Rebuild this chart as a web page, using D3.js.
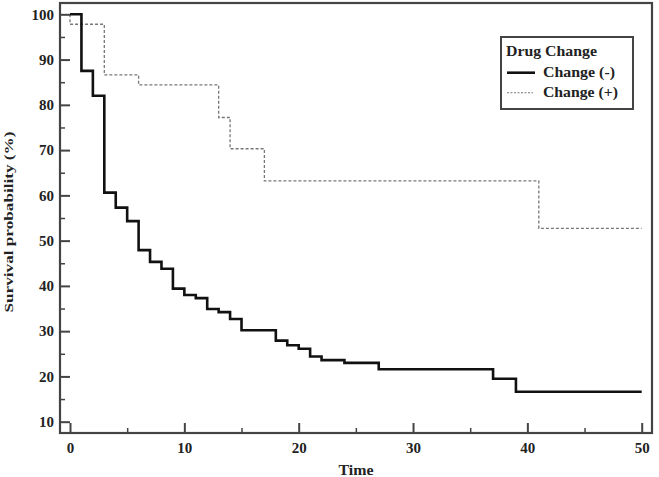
<!DOCTYPE html>
<html>
<head>
<meta charset="utf-8">
<script src="https://cdn.jsdelivr.net/npm/d3@7"></script>
<style>
  html, body { margin: 0; padding: 0; background: #fff; }
  svg { display: block; }
  text { font-family: "Liberation Serif", "Times New Roman", serif; font-weight: bold; fill: #222; }
</style>
</head>
<body>
<svg id="chart" width="659" height="477"></svg>
<script>
// ---- Data ----
const timesNeg = [0, 1, 2, 3, 4, 5, 6, 7, 8, 9, 10, 11, 12, 13, 14, 15, 18, 19, 20, 21, 22, 24, 27, 37, 39, 50];
const survNeg  = [100, 87.5, 82, 60.6, 57.3, 54.3, 47.9, 45.3, 43.8, 39.4, 38.0, 37.3, 34.9, 34.2, 32.7, 30.2, 27.9, 26.9, 26.1, 24.4, 23.6, 23.0, 21.6, 19.5, 16.6, 16.6];
const timesPos = [0, 0, 3, 6, 13, 14, 17, 41, 50];
const survPos  = [100, 97.8, 86.6, 84.4, 77.2, 70.3, 63.2, 52.7, 52.7];
const xTicks = [0, 10, 20, 30, 40, 50];
const xMinorTicks = [5, 15, 25, 35, 45];
const yTicks = [10, 20, 30, 40, 50, 60, 70, 80, 90, 100];
const yMinorTicks = [15, 25, 35, 45, 55, 65, 75, 85, 95];
const seriesNames = ["Change (-)", "Change (+)"];
const legendTitle = "Drug Change";
const xTitle = "Time";
const yTitle = "Survival probability (%)";

// ---- Layout ----
const svg = d3.select("#chart");
const L = 60, R = 652, T = 3, B = 433;
const x = d3.scaleLinear().domain([-0.875, 50.9]).range([L, R]);
const y = d3.scaleLinear().domain([7.5, 102.5]).range([B, T]);
const axisColor = "#444";

// curves
const line = d3.line().x(d => x(d[0])).y(d => y(d[1])).curve(d3.curveStepAfter);
svg.append("path")
  .datum(timesPos.map((t, i) => [t, survPos[i]]))
  .attr("d", line).attr("fill", "none")
  .attr("stroke", "#777").attr("stroke-width", 1.3).attr("stroke-dasharray", "3,2");
svg.append("path")
  .datum(timesNeg.map((t, i) => [t, survNeg[i]]))
  .attr("d", line).attr("fill", "none")
  .attr("stroke", "#111").attr("stroke-width", 2.6);

// axes (ticks inward)
const xAxis = d3.axisBottom(x).tickValues(xTicks).tickSize(-10).tickPadding(20);
const gx = svg.append("g").attr("transform", `translate(0,${B})`).call(xAxis);
gx.select(".domain").remove();
gx.selectAll(".tick line").attr("stroke", axisColor).attr("stroke-width", 2);
gx.selectAll(".tick text").attr("font-size", 15).attr("font-family", "Liberation Serif").attr("font-weight", "bold").attr("fill", "#222").attr("dy", 0).attr("y", 20);
const gxm = svg.append("g").attr("transform", `translate(0,${B})`)
  .call(d3.axisBottom(x).tickValues(xMinorTicks).tickSize(-5).tickFormat(""));
gxm.select(".domain").remove();
gxm.selectAll(".tick line").attr("stroke", axisColor).attr("stroke-width", 1.5);

const yAxis = d3.axisLeft(y).tickValues(yTicks).tickSize(-10).tickPadding(6);
const gy = svg.append("g").attr("transform", `translate(${L},0)`).call(yAxis);
gy.select(".domain").remove();
gy.selectAll(".tick line").attr("stroke", axisColor).attr("stroke-width", 2);
gy.selectAll(".tick text").attr("font-size", 15).attr("font-family", "Liberation Serif").attr("font-weight", "bold").attr("fill", "#222").attr("x", -6);
const gym = svg.append("g").attr("transform", `translate(${L},0)`)
  .call(d3.axisLeft(y).tickValues(yMinorTicks).tickSize(-5).tickFormat(""));
gym.select(".domain").remove();
gym.selectAll(".tick line").attr("stroke", axisColor).attr("stroke-width", 1.5);

// frame
svg.append("rect").attr("x", L).attr("y", T).attr("width", R - L).attr("height", B - T)
  .attr("fill", "none").attr("stroke", axisColor).attr("stroke-width", 2.2);

// axis titles
svg.append("text").attr("x", (L + R) / 2).attr("y", 475).attr("text-anchor", "middle")
  .attr("font-size", 14).attr("textLength", 35).attr("lengthAdjust", "spacingAndGlyphs").text(xTitle);
svg.append("text").attr("transform", "translate(13,222) rotate(-90)").attr("text-anchor", "middle")
  .attr("font-size", 13).attr("textLength", 181).attr("lengthAdjust", "spacingAndGlyphs").text(yTitle);

// legend
const lg = svg.append("g");
lg.append("rect").attr("x", 501).attr("y", 37).attr("width", 132).attr("height", 72)
  .attr("fill", "#fff").attr("stroke", axisColor).attr("stroke-width", 2);
lg.append("text").attr("x", 506).attr("y", 56).attr("font-size", 14)
  .attr("textLength", 91).attr("lengthAdjust", "spacingAndGlyphs").text(legendTitle);
lg.append("line").attr("x1", 507).attr("x2", 535).attr("y1", 72.7).attr("y2", 72.7)
  .attr("stroke", "#111").attr("stroke-width", 2.6);
lg.append("text").attr("x", 543).attr("y", 77).attr("font-size", 14)
  .attr("textLength", 72).attr("lengthAdjust", "spacingAndGlyphs").text(seriesNames[0]);
lg.append("line").attr("x1", 507).attr("x2", 533).attr("y1", 92.7).attr("y2", 92.7)
  .attr("stroke", "#777").attr("stroke-width", 1.1).attr("stroke-dasharray", "2,1.5");
lg.append("text").attr("x", 543).attr("y", 97).attr("font-size", 14)
  .attr("textLength", 75).attr("lengthAdjust", "spacingAndGlyphs").text(seriesNames[1]);
</script>
</body>
</html>
